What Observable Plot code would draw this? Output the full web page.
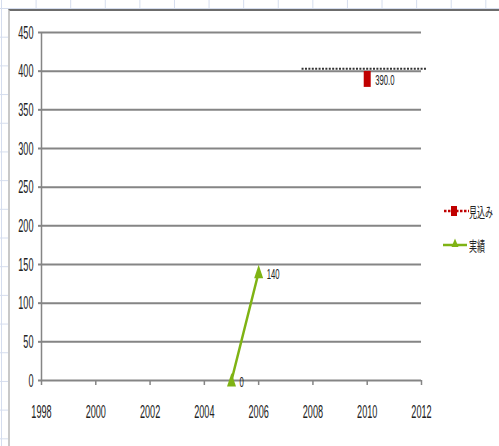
<!DOCTYPE html>
<html>
<head>
<meta charset="utf-8">
<script src="https://cdn.jsdelivr.net/npm/d3@7"></script>
<script src="https://cdn.jsdelivr.net/npm/@observablehq/plot@0.6"></script>
<style>
  html, body { margin: 0; padding: 0; }
  body {
    width: 499px; height: 446px; position: relative; overflow: hidden; background: #fff;
    background-image:
      linear-gradient(to right, #d5ddee 1px, transparent 1px),
      linear-gradient(to bottom, #d5ddee 1px, transparent 1px);
    background-size: 34.6px 28.7px;
    background-position: 1px 8px;
    font-family: "Liberation Sans", Arial, sans-serif;
  }
  #sheet {
    position: absolute; left: 8px; top: 9px; right: 0; bottom: 0; background: #fff;
    border-left: 2px solid #c9c9c9; border-top: 2px solid #6c6c6c;
  }
  #chart { position: absolute; left: 0; top: 0; }
  #legend { position: absolute; left: 443px; top: 0; }
  .item { position: absolute; left: 0; display: flex; align-items: center; height: 16px; }
  .item svg { display: block; }
  .item span {
    font-family: "Noto Sans CJK JP", sans-serif; font-size: 14px; color: #222;
    display: inline-block; transform: scaleX(0.57); transform-origin: left center;
    white-space: nowrap;
  }
</style>
</head>
<body>
<div id="sheet"></div>
<div id="chart"></div>
<div id="legend"></div>
<script>
// Series: 実績 (actual) and 見込み (forecast)
const actualYears = [2005, 2006];
const actualValues = [0, 140];
const forecastYears = [2010];
const forecastValues = [390.0];
// Dotted reference level across the forecast period
const targetLevel = 403;
const targetFrom = 2007.6;
const targetTo = 2012.2;

const xTicks = [1998, 2000, 2002, 2004, 2006, 2008, 2010, 2012];
const yTicks = [0, 50, 100, 150, 200, 250, 300, 350, 400, 450];
const seriesNames = ["見込み", "実績"];

const green = "#7fb314";
const red = "#c00000";
const gridColor = "#858585";

const actual = actualYears.map((year, i) => ({year, value: actualValues[i]}));
const forecast = forecastYears.map((year, i) => ({year, value: forecastValues[i]}));

// Tall narrow marker shapes
const tallRect = {draw(ctx) { ctx.rect(-3.5, -8, 7, 16); }};
const tallTriangle = {draw(ctx) { ctx.moveTo(0, -7.5); ctx.lineTo(4.5, 6); ctx.lineTo(-4.5, 6); ctx.closePath(); }};

const chart = Plot.plot({
  width: 499,
  height: 446,
  marginLeft: 41,
  marginRight: 78,
  marginTop: 32,
  marginBottom: 66,
  style: {background: "transparent", fontFamily: "Liberation Sans, Arial, sans-serif", color: "#222"},
  x: {domain: [1998, 2012]},
  y: {domain: [0, 450]},
  marks: [
    Plot.ruleY(yTicks, {stroke: gridColor, strokeWidth: 2}),
    Plot.ruleX([1998], {y1: 0, y2: 450, stroke: gridColor, strokeWidth: 1.5}),
    Plot.axisY({ticks: yTicks, tickSize: 3, tickPadding: 5, stroke: gridColor, strokeWidth: 2, fontSize: 19, label: null, tickFormat: d => String(d)}),
    Plot.axisX({ticks: xTicks, tickSize: 5, tickPadding: 19, stroke: gridColor, strokeWidth: 1.5, fontSize: 19, label: null, tickFormat: d => String(d)}),
    Plot.ruleY([targetLevel], {x1: targetFrom, x2: targetTo, stroke: "#333", strokeWidth: 2, strokeDasharray: "2,1.4"}),
    Plot.line(actual, {x: "year", y: "value", stroke: green, strokeWidth: 2.5}),
    Plot.dot(actual, {x: "year", y: "value", symbol: tallTriangle, fill: green, stroke: "none"}),
    Plot.text(actual, {x: "year", y: "value", text: d => String(d.value), dx: 8, dy: 2, textAnchor: "start", fontSize: 14, fill: "#222"}),
    Plot.dot(forecast, {x: "year", y: "value", symbol: tallRect, fill: red, stroke: "none"}),
    Plot.text(forecast, {x: "year", y: "value", text: d => d.value.toFixed(1), dx: 8, dy: 2, textAnchor: "start", fontSize: 14, fill: "#222"})
  ]
});
document.getElementById("chart").append(chart);

// Condense every label horizontally around its anchor point
chart.querySelectorAll("text").forEach(t => {
  const x = +t.getAttribute("x") || 0;
  const s = +(t.getAttribute("font-size") || t.closest("[font-size]")?.getAttribute("font-size") || 19) < 16 ? 0.55 : 0.48;
  const tr = t.getAttribute("transform") || "";
  t.setAttribute("transform", `${tr} translate(${x},0) scale(${s},1) translate(${-x},0)`);
});

// Legend
const legend = document.getElementById("legend");
const swatches = [
  `<svg width="26" height="16"><line x1="1" x2="26" y1="8" y2="8" stroke="${red}" stroke-width="2.5" stroke-dasharray="2.5,1.5"/><rect x="8" y="3" width="6" height="10" fill="${red}"/></svg>`,
  `<svg width="26" height="16"><line x1="0" x2="24" y1="8" y2="8" stroke="${green}" stroke-width="2.5"/><path d="M12,1.5 L15.5,10 L8.5,10 Z" fill="${green}"/></svg>`
];
const tops = [203, 237];
seriesNames.forEach((name, i) => {
  const item = document.createElement("div");
  item.className = "item";
  item.style.top = tops[i] + "px";
  item.innerHTML = swatches[i] + `<span>${name}</span>`;
  legend.append(item);
});
</script>
</body>
</html>
